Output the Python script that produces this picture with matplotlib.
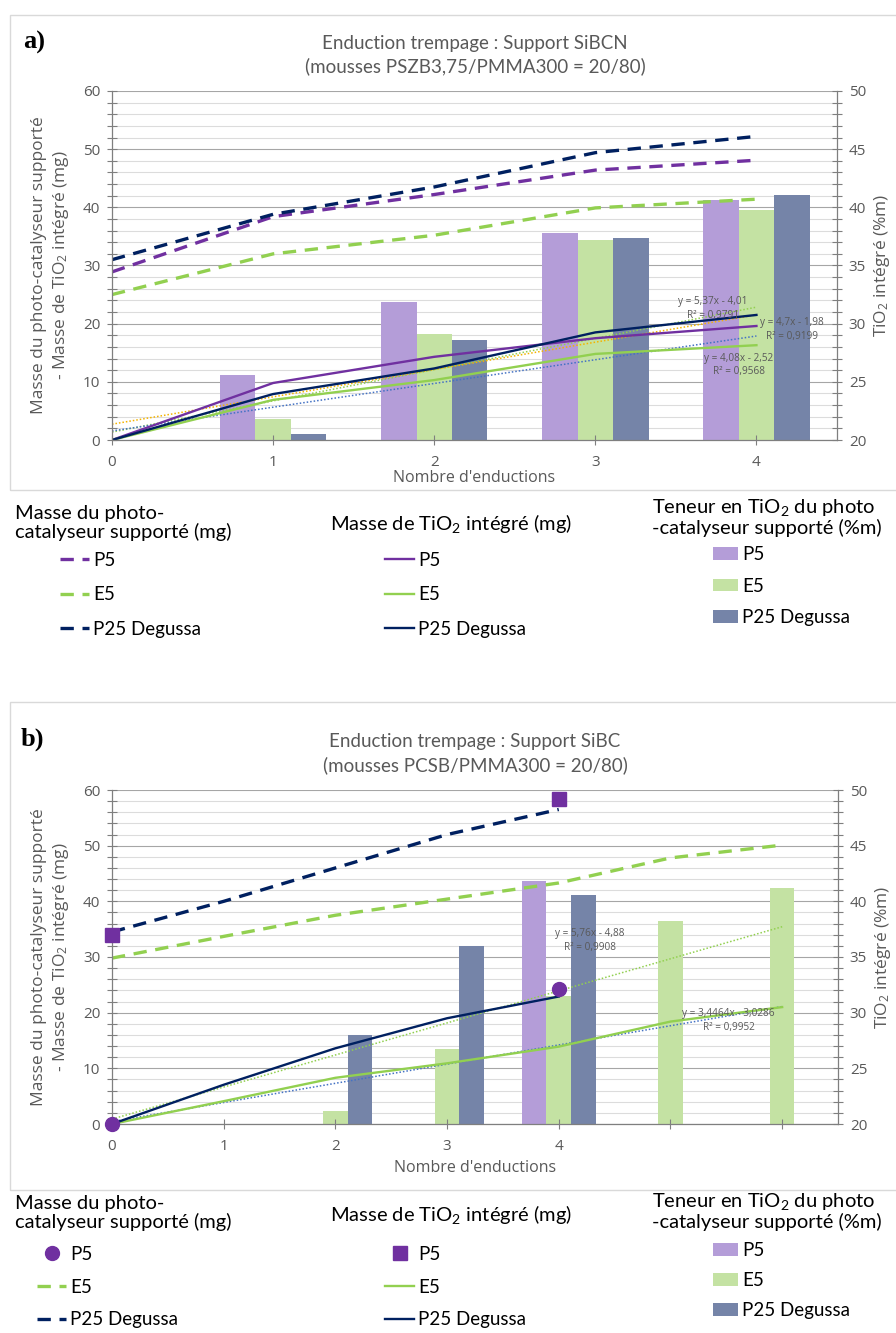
import numpy as np
import matplotlib
matplotlib.use('Agg')
import matplotlib.pyplot as plt
import matplotlib.patches as mpatches
from matplotlib.ticker import MultipleLocator

plt.rcParams['font.family'] = ['Open Sans', 'DejaVu Sans']
plt.rcParams['mathtext.default'] = 'regular'

W, H = 896, 1333

# ---- colours
PURPLE = '#7030A0'
GREEN = '#92D050'
NAVY = '#002060'
PURPLE_BAR = '#B49DD8'
GREEN_BAR = '#C4E2A3'
NAVY_BAR = '#7584A8'
TXT = '#595959'
AXIS = '#7F7F7F'
LEG_FONT = ['Lato', 'DejaVu Sans']

# ---- data, chart a) (support SiBCN)
x_a = [0, 1, 2, 3, 4]
cat_p5_a = [28.9, 38.4, 42.2, 46.4, 48.1]
cat_e5_a = [25.0, 32.0, 35.2, 39.9, 41.4]
cat_p25_a = [31.0, 38.8, 43.5, 49.4, 52.2]
tio2_p5_a = [0, 9.8, 14.3, 17.5, 19.6]
tio2_e5_a = [0, 6.9, 10.3, 14.8, 16.3]
tio2_p25_a = [0, 7.9, 12.3, 18.5, 21.5]
bar_x_a = [1, 2, 3, 4]
teneur_p5_a = [25.6, 31.9, 37.8, 40.6]
teneur_e5_a = [21.8, 29.1, 37.2, 39.8]
teneur_p25_a = [20.5, 28.6, 37.4, 41.05]
# trend lines (slope, intercept), Excel index = point number (1-based)
trend_p25_a = (5.37, -4.01, 'y = 5,37x - 4,01', 'R² = 0,9791')
trend_p5_a = (4.7, -1.98, 'y = 4,7x - 1,98', 'R² = 0,9199')
trend_e5_a = (4.08, -2.52, 'y = 4,08x - 2,52', 'R² = 0,9568')

# ---- data, chart b) (support SiBC)
x_b = [0, 1, 2, 3, 4, 5, 6]
x_b_p25 = [0, 1, 2, 3, 4]
cat_e5_b = [29.8, 33.7, 37.5, 40.4, 43.3, 47.8, 50.1]
cat_p25_b = [34.5, 40.0, 46.0, 52.0, 56.5]
tio2_e5_b = [0, 4.1, 8.3, 10.9, 13.9, 18.4, 21.0]
tio2_p25_b = [0, 7.05, 13.6, 19.0, 22.9]
p5_circle_x = [0, 4]
p5_circle_b = [0, 24.3]
p5_square_x = [0, 4]
p5_square_b = [33.9, 58.3]
bar_x_p5_b = [4]
teneur_p5_b = [41.8]
bar_x_e5_b = [2, 3, 4, 5, 6]
teneur_e5_b = [21.2, 26.7, 31.5, 38.2, 41.2]
bar_x_p25_b = [2, 3, 4]
teneur_p25_b = [28.0, 36.0, 40.6]
trend_p25_b = (5.76, -4.88, 'y = 5,76x - 4,88', 'R² = 0,9908')
trend_e5_b = (3.4464, -3.0286, 'y = 3,4464x - 3,0286', 'R² = 0,9952')

names = ['P5', 'E5', 'P25 Degussa']

BW = 0.22
DASH = (0, (4.0, 2.6))
DOT = (0, (1, 1.3))

fig = plt.figure(figsize=(W / 100, H / 100), dpi=100)


def px_rect(x0, y0, x1, y1):
    return [x0 / W, 1 - y1 / H, (x1 - x0) / W, (y1 - y0) / H]


def make_axes(rect, xmax, xticks, xlabels, xlabel_y):
    ax = fig.add_axes(rect)
    axr = ax.twinx()
    ax.set_zorder(axr.get_zorder() + 1)
    ax.patch.set_visible(False)
    ax.set_xlim(0, xmax)
    ax.set_ylim(0, 60)
    axr.set_ylim(20, 50)
    ax.yaxis.set_major_locator(MultipleLocator(10))
    ax.yaxis.set_minor_locator(MultipleLocator(2))
    axr.yaxis.set_major_locator(MultipleLocator(5))
    axr.yaxis.set_minor_locator(MultipleLocator(1))
    axr.set_axisbelow(True)
    axr.grid(True, which='major', axis='y', color='#A6A6A6', lw=0.8)
    axr.grid(True, which='minor', axis='y', color='#DCDCDC', lw=0.8)
    ax.set_xticks(xticks)
    ax.set_xticklabels(xlabels)
    for a in (ax, axr):
        a.tick_params(which='both', direction='inout', length=7, width=0.8,
                      color=AXIS, labelcolor=TXT, labelsize=11)
        for s in a.spines.values():
            s.set_visible(False)
    ax.tick_params(axis='x', pad=7)
    ax.tick_params(axis='y', pad=5)
    axr.tick_params(axis='y', pad=5)
    ax.spines['left'].set_visible(True)
    ax.spines['bottom'].set_visible(True)
    axr.spines['right'].set_visible(True)
    for s in (ax.spines['left'], ax.spines['bottom'], axr.spines['right']):
        s.set_color(AXIS)
        s.set_linewidth(0.9)
    ax.set_ylabel('Masse du photo-catalyseur supporté\n- Masse de TiO$_2$ intégré (mg)',
                  fontsize=12.5, color=TXT, linespacing=1.3, va='center')
    ax.yaxis.set_label_coords(-0.084, 0.5)
    axr.set_ylabel('TiO$_2$ intégré (%m)', fontsize=12.5, color=TXT, rotation=90, va='center')
    axr.yaxis.set_label_coords(1.062, 0.5)
    ax.set_xlabel("Nombre d'enductions", fontsize=11.5, color=TXT, va='center')
    ax.xaxis.set_label_coords(0.5, xlabel_y)
    return ax, axr


def trend(ax, tr, x0, x1, color, tx, ty):
    xs = np.array([x0, x1], dtype=float)
    ax.plot(xs, tr[0] * (xs + 1) + tr[1], ls=DOT, color=color, lw=1.1, zorder=1)
    ax.text(tx, ty, tr[2] + '\n' + tr[3], ha='center', va='center', fontsize=7.2,
            color=TXT, linespacing=1.35, zorder=5)


def legend_block(handles, x, y, spacing, hlen=1.55, hheight=0.7):
    fig.legend(handles, names, loc='upper left', bbox_to_anchor=(x / W, 1 - y / H),
               frameon=False, prop={'family': LEG_FONT, 'size': 13.5},
               handlelength=hlen, handleheight=hheight, handletextpad=0.2,
               labelspacing=spacing, borderpad=0, borderaxespad=0)


def legend_title(text, x, y):
    fig.text(x / W, 1 - y / H, text, ha='left', va='center', fontsize=14.5,
             family=LEG_FONT, color='black', linespacing=1.12)


# chart frames
for y0, y1 in ((15, 490), (702, 1190)):
    fig.add_artist(mpatches.Rectangle((10 / W, 1 - y1 / H), 890 / W, (y1 - y0) / H,
                                      transform=fig.transFigure, fill=False,
                                      edgecolor='#D9D9D9', lw=1))

# ================= chart a)
ax, axr = make_axes(px_rect(112, 91, 837, 440), 4.5, [0, 1, 2, 3, 4],
                    ['0', '1', '2', '3', '4'], -0.109)
b1 = axr.bar(np.array(bar_x_a) - BW, teneur_p5_a, BW, color=PURPLE_BAR)
b2 = axr.bar(bar_x_a, teneur_e5_a, BW, color=GREEN_BAR)
b3 = axr.bar(np.array(bar_x_a) + BW, teneur_p25_a, BW, color=NAVY_BAR)

trend(ax, trend_p25_a, 0, 4, GREEN, 3.73, 22.6)
trend(ax, trend_p5_a, 0, 4, '#F4B400', 4.22, 19.0)
trend(ax, trend_e5_a, 0, 4, '#4472C4', 3.89, 12.9)

l1, = ax.plot(x_a, cat_p5_a, color=PURPLE, lw=2.4, ls=DASH)
l2, = ax.plot(x_a, cat_e5_a, color=GREEN, lw=2.4, ls=DASH)
l3, = ax.plot(x_a, cat_p25_a, color=NAVY, lw=2.4, ls=DASH)
s1, = ax.plot(x_a, tio2_p5_a, color=PURPLE, lw=1.7)
s2, = ax.plot(x_a, tio2_e5_a, color=GREEN, lw=1.7)
s3, = ax.plot(x_a, tio2_p25_a, color=NAVY, lw=1.7)

fig.text(475 / W, 1 - 43 / H, 'Enduction trempage : Support SiBCN', ha='center', va='center',
         fontsize=13.5, color=TXT, family=LEG_FONT)
fig.text(475 / W, 1 - 66 / H, '(mousses PSZB3,75/PMMA300 = 20/80)', ha='center', va='center',
         fontsize=13.5, color=TXT, family=LEG_FONT)
fig.text(34 / W, 1 - 42 / H, 'a)', ha='center', va='center', fontsize=19, weight='bold',
         family='Liberation Serif')

legend_title('Masse du photo-\ncatalyseur supporté (mg)', 15, 523)
legend_title('Masse de TiO$_2$ intégré (mg)', 330, 523)
legend_title('Teneur en TiO$_2$ du photo\n-catalyseur supporté (%m)', 652, 517)
legend_block([l1, l2, l3], 60, 552, 0.93)
legend_block([s1, s2, s3], 385, 552, 0.93)
legend_block([b1, b2, b3], 713, 546, 0.78, hlen=1.35, hheight=0.65)

# ================= chart b)
ax, axr = make_axes(px_rect(112, 790, 838, 1124), 6.5, [0, 1, 2, 3, 4, 5, 6],
                    ['0', '1', '2', '3', '4', '', ''], -0.132)
c1 = axr.bar(np.array(bar_x_p5_b) - BW, teneur_p5_b, BW, color=PURPLE_BAR)
c2 = axr.bar(bar_x_e5_b, teneur_e5_b, BW, color=GREEN_BAR)
c3 = axr.bar(np.array(bar_x_p25_b) + BW, teneur_p25_b, BW, color=NAVY_BAR)

trend(ax, trend_p25_b, 0, 6, GREEN, 4.28, 33.0)
trend(ax, trend_e5_b, 0, 6, '#4472C4', 5.52, 18.6)

m1, = ax.plot(p5_circle_x, p5_circle_b, ls='none', marker='o', ms=10, color=PURPLE,
              clip_on=False, zorder=4)
m2, = ax.plot(p5_square_x, p5_square_b, ls='none', marker='s', ms=10, color=PURPLE,
              clip_on=False, zorder=4)
k2, = ax.plot(x_b, cat_e5_b, color=GREEN, lw=2.4, ls=DASH)
k3, = ax.plot(x_b_p25, cat_p25_b, color=NAVY, lw=2.4, ls=DASH)
t2, = ax.plot(x_b, tio2_e5_b, color=GREEN, lw=1.7)
t3, = ax.plot(x_b_p25, tio2_p25_b, color=NAVY, lw=1.7)

fig.text(475 / W, 1 - 742 / H, 'Enduction trempage : Support SiBC', ha='center', va='center',
         fontsize=13.5, color=TXT, family=LEG_FONT)
fig.text(475 / W, 1 - 765 / H, '(mousses PCSB/PMMA300 = 20/80)', ha='center', va='center',
         fontsize=13.5, color=TXT, family=LEG_FONT)
fig.text(32 / W, 1 - 739 / H, 'b)', ha='center', va='center', fontsize=19, weight='bold',
         family='Liberation Serif')

legend_title('Masse du photo-\ncatalyseur supporté (mg)', 15, 1213)
legend_title('Masse de TiO$_2$ intégré (mg)', 330, 1215)
legend_title('Teneur en TiO$_2$ du photo\n-catalyseur supporté (%m)', 652, 1211)
legend_block([m1, k2, k3], 37, 1246, 0.83)
legend_block([m2, t2, t3], 385, 1246, 0.83)
legend_block([c1, c2, c3], 713, 1242, 0.69, hlen=1.35, hheight=0.65)

fig.savefig('out.png', dpi=100)
